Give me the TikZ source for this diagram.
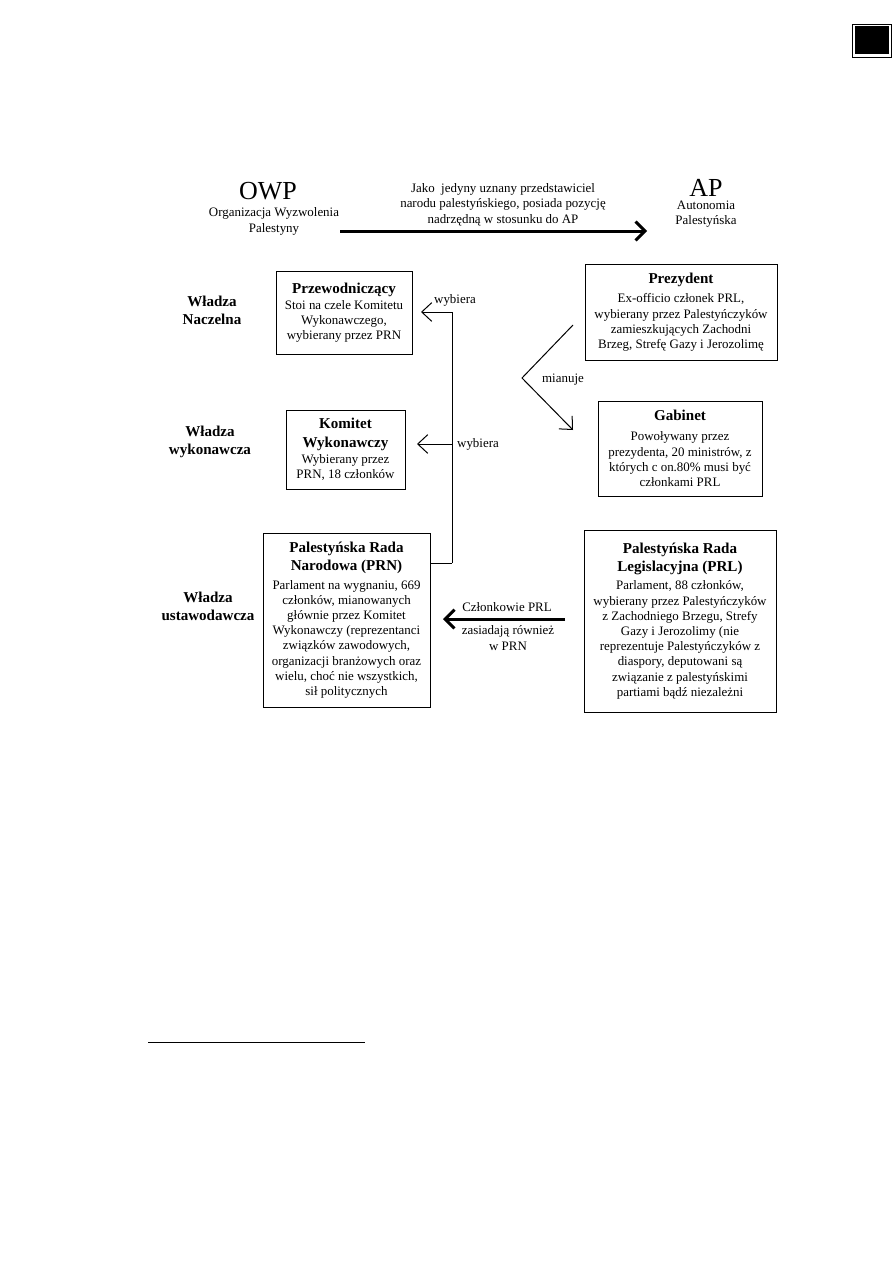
\documentclass[tikz,border=0pt]{standalone}
\usepackage{fontspec}
\setmainfont{Liberation Serif}
\usetikzlibrary{arrows.meta}

\newcommand\boxtitle[1]{{\fontsize{11.3}{13.5}\selectfont\bfseries #1}}

\begin{document}
\begin{tikzpicture}[
        x=0.75pt, y=-0.75pt,
        every node/.style = {
            inner sep=0pt,
            align=center,
            font=\fontsize{9.7}{11.4}\selectfont
        },
        organ/.style = {draw, line width=0.75pt},
        power/.style = {font=\fontsize{11.3}{13.5}\selectfont\bfseries},
        big/.style = {anchor=base, font=\fontsize{19.5}{22}\selectfont},
        link/.style = {line width=0.75pt, -{Straight Barb[length=7.5pt,width=14pt]}},
        bigarrow/.style = {line width=2.25pt, -{Straight Barb[length=7pt,width=14pt]}}
    ]
    \useasboundingbox (0,0) rectangle (893,1263);

    % page marker
    \draw[line width=0.5pt] (852,24) rectangle (891,57);
    \fill (854.5,26.5) rectangle (888.5,54.5);

    % OWP i AP
    \node[big] (owp) at (268,199) {OWP};
    \node (owpName) at (274,221.5) {Organizacja Wyzwolenia\\Palestyny};
    \node[big] (ap) at (706,196) {AP};
    \node (apName) at (706,214.5) {Autonomia\\Palestyńska};

    \coordinate (owpEnd) at (340,231);
    \coordinate (apEnd) at (647,231);
    \draw[bigarrow] (owpEnd) -- (apEnd);
    \node[font=\fontsize{9.7}{11.7}\selectfont] (relation) at (503,204.5)
        {Jako \ jedyny uznany przedstawiciel\\narodu palestyńskiego, posiada pozycję\\nadrzędną w stosunku do AP};

    % Wladze
    \node[power] (naczelna) at (212,310) {Władza\\Naczelna};
    \node[power] (wykonawcza) at (210,441.5) {Władza\\wykonawcza};
    \node[power] (ustawodawcza) at (208,606) {Władza\\ustawodawcza};

    % OWP: organy
    \node[organ, minimum width=102pt, minimum height=62.25pt] (przew) at (344,312.5)
        {\boxtitle{Przewodniczący}\\[0.5pt]Stoi na czele Komitetu\\Wykonawczego,\\wybierany przez PRN};
    \node[organ, minimum width=89.25pt, minimum height=59.25pt] (komitet) at (345.5,449.5)
        {\boxtitle{Komitet}\\[2.5pt]\boxtitle{Wykonawczy}\\[1pt]Wybierany przez\\PRN, 18 członków};
    \node[organ, minimum width=125.25pt, minimum height=130.5pt] (prn) at (346.5,620)
        {\boxtitle{Palestyńska Rada}\\[2.5pt]\boxtitle{Narodowa (PRN)}\\[2.5pt]Parlament na wygnaniu, 669\\członków, mianowanych\\głównie przez Komitet\\Wykonawczy (reprezentanci\\związków zawodowych,\\organizacji branżowych oraz\\wielu, choć nie wszystkich,\\sił politycznych};

    % AP: organy
    \node[organ, minimum width=144pt, minimum height=72pt] (prez) at (681,312)
        {\boxtitle{Prezydent}\\[3.5pt]Ex-officio członek PRL,\\wybierany przez Palestyńczyków\\zamieszkujących Zachodni\\Brzeg, Strefę Gazy i Jerozolimę};
    \node[organ, minimum width=123pt, minimum height=71.25pt] (gabinet) at (680,448.5)
        {\boxtitle{Gabinet}\\[3.5pt]Powoływany przez\\prezydenta, 20 ministrów, z\\których c on.80\% musi być\\członkami PRL};
    \node[organ, minimum width=144pt, minimum height=136.5pt] (prl) at (680,621)
        {\boxtitle{Palestyńska Rada}\\[2.5pt]\boxtitle{Legislacyjna (PRL)}\\[2pt]Parlament, 88 członków,\\wybierany przez Palestyńczyków\\z Zachodniego Brzegu, Strefy\\Gazy i Jerozolimy (nie\\reprezentuje Palestyńczyków z\\diaspory, deputowani są\\związanie z palestyńskimi\\partiami bądź niezależni};

    % wybiera
    \coordinate (spine) at (452,563);
    \coordinate (toPrzew) at (421,312);
    \coordinate (toKomitet) at (417,444);
    \draw[line width=0.75pt] (prn.east |- spine) -- (spine);
    \draw[link] (spine) |- (toPrzew);
    \draw[link] (spine |- toKomitet) -- (toKomitet);
    \node (wyb1) at (455,300) {wybiera};
    \node (wyb2) at (478,444) {wybiera};

    % mianuje
    \coordinate (mStart) at (573,325);
    \coordinate (mBend) at (522,378);
    \coordinate (mEnd) at (573,430);
    \draw[link] (mStart) -- (mBend) -- (mEnd);
    \node (mianuje) at (563,380) {mianuje};

    % PRL -> PRN
    \coordinate (prlOut) at (565,619);
    \coordinate (prnIn) at (443,619);
    \draw[bigarrow] (prlOut) -- (prnIn);
    \node (czlonkowie) at (507,607) {Członkowie PRL};
    \node (zasiadaja) at (508,638) {zasiadają również\\w PRN};

    % przypis
    \draw[line width=0.75pt] (148,1042) -- (365,1042);

\end{tikzpicture}
\end{document}
